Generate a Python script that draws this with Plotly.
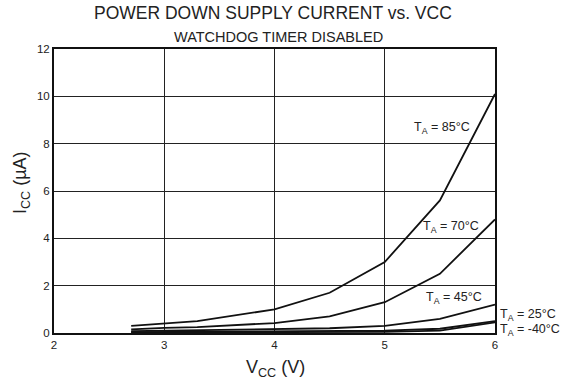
import plotly.graph_objects as go

# Supply voltage sample points (V)
vcc = [2.7, 3.0, 3.3, 4.0, 4.5, 5.0, 5.5, 6.0]

# Power-down supply current (uA) per ambient temperature
icc_85 = [0.30, 0.40, 0.50, 1.00, 1.70, 3.00, 5.60, 10.10]
icc_70 = [0.15, 0.22, 0.25, 0.42, 0.70, 1.30, 2.50, 4.80]
icc_45 = [0.08, 0.10, 0.11, 0.15, 0.20, 0.30, 0.60, 1.20]
icc_25 = [0.04, 0.05, 0.05, 0.06, 0.08, 0.10, 0.18, 0.50]
icc_m40 = [0.02, 0.02, 0.02, 0.03, 0.04, 0.05, 0.10, 0.45]

temps = ["85", "70", "45", "25", "-40"]
currents = [icc_85, icc_70, icc_45, icc_25, icc_m40]

x_ticks = [2, 3, 4, 5, 6]
y_ticks = [0, 2, 4, 6, 8, 10, 12]

FONT = "Liberation Sans, Arial, sans-serif"
INK = "#222222"

# Plot-area geometry in pixels, used to place free text in paper units
W, H = 571, 383
L, R, T, B = 54, 76, 49, 50
PW, PH = W - L - R, H - T - B


def px(xp):
    return (xp - L) / PW


def py(yp):
    return (H - B - yp) / PH


fig = go.Figure()
for temp, vals in zip(temps, currents):
    fig.add_trace(go.Scatter(
        x=vcc, y=vals, mode="lines",
        line=dict(color="#111111", width=1.8),
        name=f"TA = {temp}°C", showlegend=False,
    ))

# Curve labels inside the plot
for text, x, y in [
    ("T<sub>A</sub> = 85°C", 5.52, 8.66),
    ("T<sub>A</sub> = 70°C", 5.60, 4.48),
    ("T<sub>A</sub> = 45°C", 5.63, 1.48),
]:
    fig.add_annotation(text=text, x=x, y=y, xref="x", yref="y",
                       showarrow=False, font=dict(size=12.5, color=INK))

# Curve labels just right of the frame
for text, y in [("T<sub>A</sub> = 25°C", 0.78), ("T<sub>A</sub> = -40°C", 0.12)]:
    fig.add_annotation(text=text, x=px(498), y=y, xref="paper", yref="y",
                       xanchor="left", showarrow=False,
                       font=dict(size=12.5, color=INK))

# Title, subtitle and axis titles
fig.add_annotation(text="POWER DOWN SUPPLY CURRENT vs. VCC", x=px(273), y=py(13),
                   xref="paper", yref="paper", yanchor="middle", showarrow=False,
                   font=dict(size=17.5, color=INK))
fig.add_annotation(text="WATCHDOG TIMER DISABLED", x=px(278), y=py(37),
                   xref="paper", yref="paper", yanchor="middle", showarrow=False,
                   font=dict(size=14.5, color=INK))
fig.add_annotation(text="V<sub>CC</sub> (V)", x=px(275), y=py(368),
                   xref="paper", yref="paper", yanchor="middle", showarrow=False,
                   font=dict(size=18, color=INK))
fig.add_annotation(text="I<sub>CC</sub> (µA)", x=px(21), y=py(183),
                   xref="paper", yref="paper", xanchor="center", yanchor="middle",
                   textangle=-90, showarrow=False,
                   font=dict(size=18, color=INK))

axis_style = dict(
    ticks="", showgrid=True, gridcolor="#222222", gridwidth=1, zeroline=False,
    showline=True, linecolor="#111111", linewidth=2, mirror=True,
    tickfont=dict(size=11.5, color=INK),
)
fig.update_xaxes(range=[2, 6], tickvals=x_ticks, **axis_style)
fig.update_yaxes(range=[0, 12], tickvals=y_ticks, **axis_style)

fig.update_layout(
    width=W, height=H,
    margin=dict(l=L, r=R, t=T, b=B),
    plot_bgcolor="white", paper_bgcolor="white",
    font=dict(family=FONT, color=INK),
)

fig.write_html("out.html")
